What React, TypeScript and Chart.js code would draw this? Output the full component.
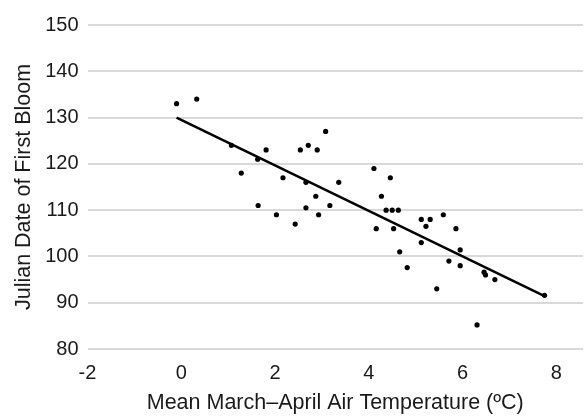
import React, { useEffect, useRef } from "react";
import { Chart, registerables } from "chart.js";

Chart.register(...registerables);

const tempX = [-0.1, 0.33, 1.07, 1.28, 1.63, 1.64, 1.81, 2.03, 2.17, 2.43, 2.54, 2.66, 2.66, 2.71, 2.87, 2.9, 2.93, 3.08, 3.17, 3.36, 4.11, 4.16, 4.27, 4.37, 4.46, 4.5, 4.53, 4.63, 4.66, 4.82, 5.12, 5.12, 5.22, 5.31, 5.45, 5.59, 5.71, 5.86, 5.95, 5.95, 6.31, 6.46, 6.49, 6.69, 7.75];
const bloomY = [133, 134, 124, 118, 121, 111, 123, 109, 117, 107, 123, 116, 110.5, 124, 113, 123, 109, 127, 111, 116, 119, 106, 113, 110, 117, 110, 106, 110, 101, 97.6, 108, 103, 106.5, 108, 93, 109, 99, 106, 101.4, 98, 85.2, 96.6, 96, 95, 91.6];
const trendX = [-0.1, 7.75];
const trendY = [130, 91.4];
const xTicks = [-2, 0, 2, 4, 6, 8];

const xTitle = "Mean March\u2013April Air Temperature (\u00baC)";
const yTitle = "Julian Date of First Bloom";

export default function App() {
  const ref = useRef<HTMLCanvasElement>(null);
  useEffect(() => {
    if (!ref.current) return;
    const family = "'Liberation Sans', Arial, sans-serif";
    const font = { family, size: 20 };
    const titleFont = { family, size: 21.5 };
    const chart = new Chart(ref.current, {
      type: "scatter",
      data: {
        datasets: [
          {
            type: "scatter",
            data: tempX.map((x, i) => ({ x, y: bloomY[i] })),
            backgroundColor: "#000",
            borderColor: "#000",
            pointRadius: 2.6,
            pointBorderWidth: 0,
          },
          {
            type: "line",
            data: trendX.map((x, i) => ({ x, y: trendY[i] })),
            borderColor: "#000",
            borderWidth: 2.5,
            pointRadius: 0,
            fill: false,
          } as any,
        ],
      },
      options: {
        animation: false,
        responsive: false,
        maintainAspectRatio: false,
        layout: { padding: { top: 25, left: 0, right: 0, bottom: 0 } },
        plugins: { legend: { display: false }, tooltip: { enabled: false } },
        scales: {
          x: {
            type: "linear",
            min: -2,
            max: 8.57,
            afterBuildTicks: (s: any) => {
              s.ticks = xTicks.map((v) => ({ value: v }));
            },
            afterFit: (s: any) => {
              s.height = 68;
            },
            grid: { display: false, drawTicks: false },
            border: { display: false },
            ticks: { color: "#1a1a1a", font, padding: 12, maxRotation: 0 },
            title: { display: true, text: xTitle, color: "#1a1a1a", font: titleFont, padding: { top: 0, bottom: 1 } },
          },
          y: {
            type: "linear",
            min: 80,
            max: 150,
            afterFit: (s: any) => {
              s.width = 87.5;
            },
            grid: { color: "#d9d9d9", lineWidth: 2, drawTicks: false },
            border: { display: false },
            ticks: { stepSize: 10, color: "#1a1a1a", font, padding: 9 },
            title: { display: true, text: yTitle, color: "#1a1a1a", font: titleFont, padding: { top: 11, bottom: 0 } },
          },
        },
      },
    });
    return () => chart.destroy();
  }, []);
  return (
    <div style={{ position: "absolute", left: 0, top: 0, width: 587, height: 417, background: "#fff" }}>
      <canvas ref={ref} width={587} height={417} style={{ width: 587, height: 417 }} />
    </div>
  );
}
